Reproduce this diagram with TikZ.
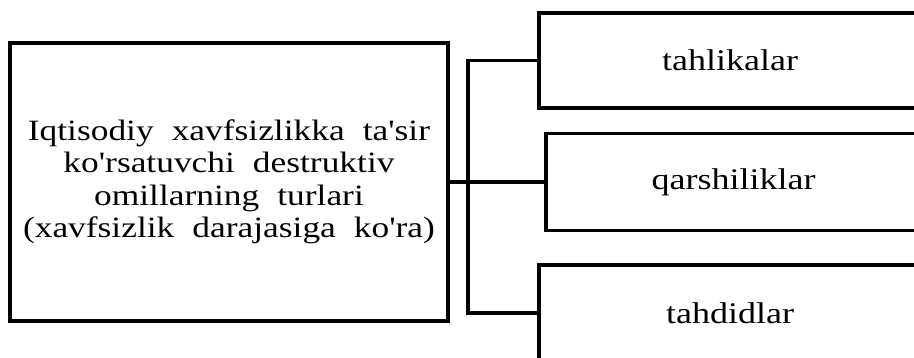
\documentclass[tikz,border=0pt]{standalone}
\usepackage{fontspec}
\setmainfont{Liberation Serif}[FakeStretch=1.2,Ligatures=TeXOff]
\newcommand\mainfont{\fontsize{29.5}{32.5}\selectfont\spaceskip=18pt\relax}

\begin{document}
\begin{tikzpicture}[x=1pt,y=-1pt,
  box/.style={draw,line width=3.8pt,align=center,inner sep=0pt},
  conn/.style={line width=3.4pt}]
\useasboundingbox (0,0) rectangle (914,358);

\node[box,minimum width=438pt,minimum height=278pt,font=\mainfont] (main) at (229,182)
  {Iqtisodiy xavfsizlikka ta'sir\\ko'rsatuvchi destruktiv\\omillarning turlari\\(xavfsizlik darajasiga ko'ra)};

\node[box,minimum width=382pt,minimum height=95pt,font=\fontsize{30}{34}\selectfont] (tahlika) at (730,60.5) {tahlikalar};
\node[box,minimum width=375pt,minimum height=97pt,font=\fontsize{30}{34}\selectfont] (qarshilik) at (733.5,182) {qarshiliklar};
\node[box,minimum width=382pt,minimum height=96pt,font=\fontsize{30}{34}\selectfont] (tahdid) at (730,313) {tahdidlar};

\coordinate (bus) at (468,182);
\draw[conn] (main.east) -- (bus);
\draw[conn] (tahlika.west) -| (bus) |- (tahdid.west);
\draw[conn] (bus) -- (qarshilik.west);
\end{tikzpicture}
\end{document}
